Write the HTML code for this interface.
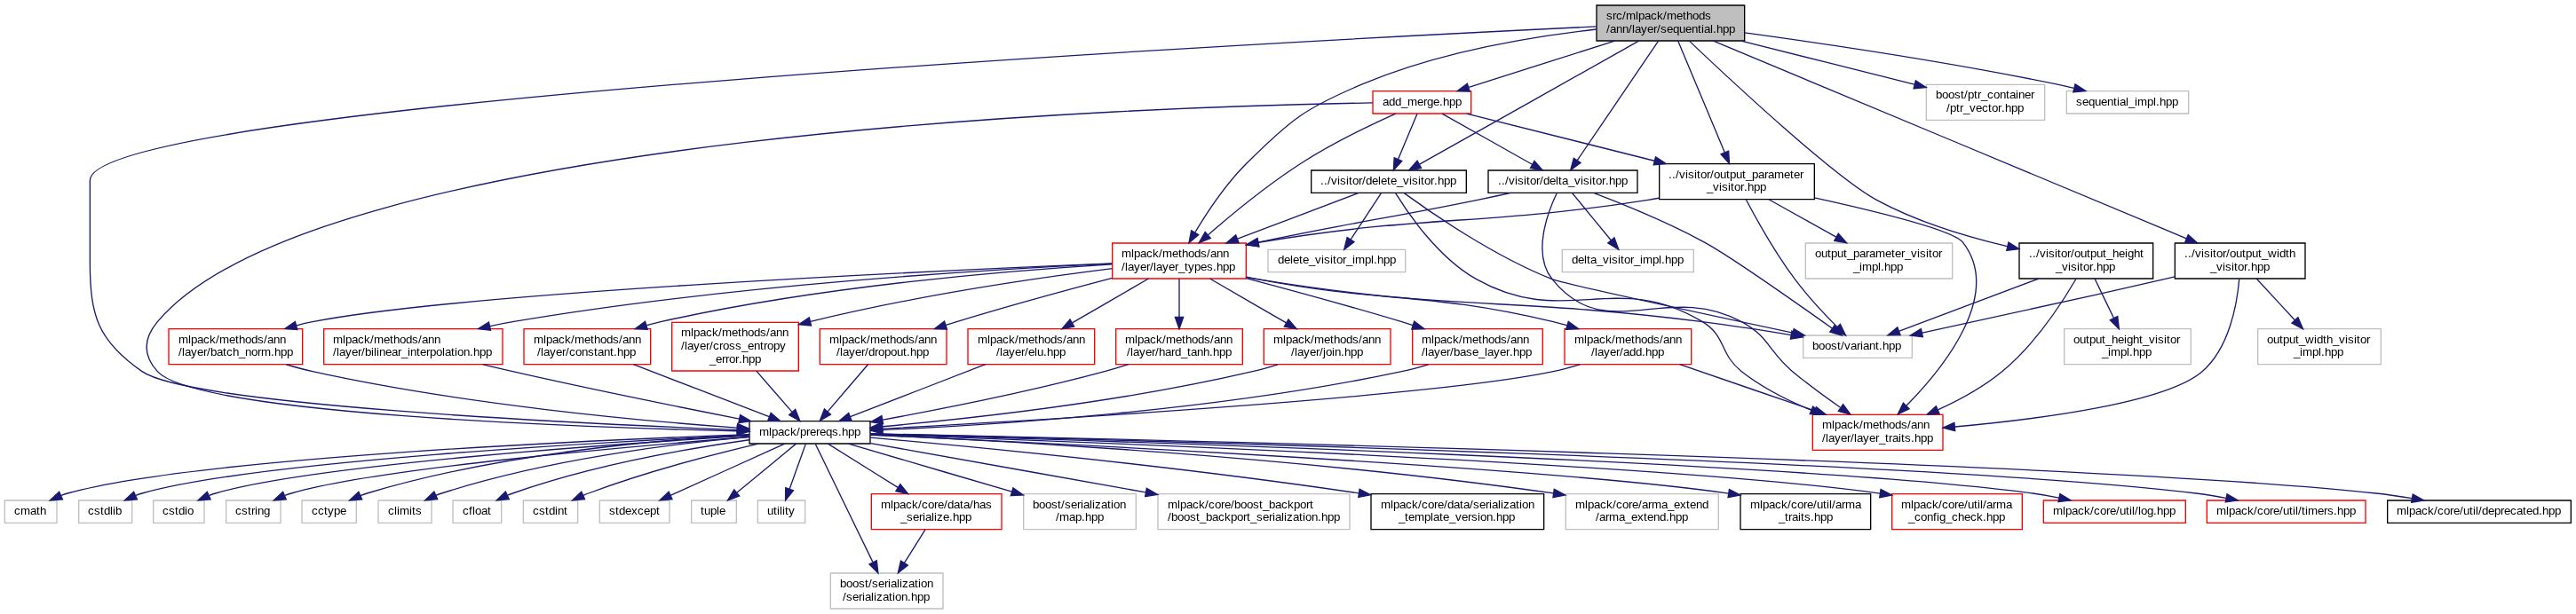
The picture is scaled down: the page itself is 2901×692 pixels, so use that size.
<!DOCTYPE html>
<html>
<head>
<meta charset="utf-8">
<title>sequential.hpp include dependency graph</title>
<style>
html, body { margin: 0; padding: 0; background: #ffffff; }
body { width: 2901px; height: 692px; overflow: hidden; font-family: "Liberation Sans", sans-serif; }
svg { display: block; will-change: transform; }
svg text { font-family: "Liberation Sans", sans-serif; font-size: 10px; fill: #000; }
</style>
</head>
<body>
<svg width="2901" height="692" viewBox="0 0 2175.75 519">
<g transform="scale(1 1) rotate(0) translate(4 515)">
<polygon fill="white" stroke="transparent" points="-4,4 -4,-515 2171.5,-515 2171.5,4 -4,4"/>
<g>
<polygon fill="#bfbfbf" stroke="black" points="1344.5,-480.5 1344.5,-510.5 1469.5,-510.5 1469.5,-480.5 1344.5,-480.5"/>
<text x="1352.75 1358 1361 1366.25 1369.25 1377.5 1379.75 1385 1390.25 1395.5 1400.75 1403.75 1412 1417.25 1420.25 1425.5 1430.75 1436" y="-498.5">src/mlpack/methods</text>
<text x="1352.75 1355.75 1361 1366.25 1371.5 1374.5 1376.75 1382 1387.25 1392.5 1395.5 1398.5 1403.75 1409 1414.25 1419.5 1424.75 1430 1433 1435.25 1440.5 1442.75 1445.75 1451 1456.25" y="-487.25">/ann/layer/sequential.hpp</text>
</g>
<g>
<polygon fill="white" stroke="black" points="629,-140 629,-159 731,-159 731,-140 629,-140"/>
<text x="637.25 645.5 647.75 653 658.25 663.5 668.75 671.75 677 680 685.25 688.25 693.5 698.75 704 707 712.25 717.5" y="-146.75">mlpack/prereqs.hpp</text>
</g>
<g>
<path fill="none" stroke="midnightblue" d="M1344.4,-492.59C1080.47,-479.92 72,-427.28 72,-362.5 72,-362.5 72,-293.5 72,-293.5 72,-247.97 78.65,-227.04 116,-201 156.48,-172.77 480.36,-157.14 618.22,-151.72"/>
<polygon fill="midnightblue" stroke="midnightblue" points="618.48,-148.2 628.61,-151.31 618.76,-155.2 618.48,-148.2"/>
</g>
<g>
<polygon fill="white" stroke="#bfbfbf" points="1623,-413.5 1623,-443.5 1723,-443.5 1723,-413.5 1623,-413.5"/>
<text x="1631 1636.25 1641.5 1646.75 1652 1655 1658 1663.25 1666.25 1669.25 1674.5 1679.75 1685 1690.25 1693.25 1698.5 1700.75 1706 1711.25" y="-431.75">boost/ptr_container</text>
<text x="1640 1643 1648.25 1651.25 1654.25 1659.5 1664.75 1670 1675.25 1678.25 1683.5 1686.5 1689.5 1694.75 1700" y="-420.5">/ptr_vector.hpp</text>
</g>
<g>
<path fill="none" stroke="midnightblue" d="M1466.7,-480.46C1510.32,-469.48 1569.25,-454.63 1612.96,-443.62"/>
<polygon fill="midnightblue" stroke="midnightblue" points="1612.33,-440.17 1622.88,-441.12 1614.04,-446.96 1612.33,-440.17"/>
</g>
<g>
<polygon fill="white" stroke="black" points="1103.5,-352 1103.5,-371 1234.5,-371 1234.5,-352 1103.5,-352"/>
<text x="1111.25 1114.25 1117.25 1120.25 1125.5 1127.75 1133 1135.25 1138.25 1143.5 1146.5 1149.5 1154.75 1160 1162.25 1167.5 1170.5 1175.75 1181 1186.25 1188.5 1193.75 1196 1199 1204.25 1207.25 1210.25 1215.5 1220.75" y="-359">../visitor/delete_visitor.hpp</text>
</g>
<g>
<path fill="none" stroke="midnightblue" d="M1380.16,-480.39C1334.08,-454.45 1240.5,-401.76 1195,-376.14"/>
<polygon fill="midnightblue" stroke="midnightblue" points="1193.05,-379.06 1186.06,-371.1 1196.49,-372.96 1193.05,-379.06"/>
</g>
<g>
<polygon fill="white" stroke="red" points="935.5,-279.5 935.5,-309.5 1048.5,-309.5 1048.5,-279.5 935.5,-279.5"/>
<text x="943.25 951.5 953.75 959 964.25 969.5 974.75 977.75 986 991.25 994.25 999.5 1004.75 1010 1015.25 1018.25 1023.5 1028.75" y="-297.5">mlpack/methods/ann</text>
<text x="943.25 946.25 948.5 953.75 959 964.25 967.25 970.25 972.5 977.75 983 988.25 991.25 996.5 999.5 1004.75 1010 1015.25 1020.5 1023.5 1028.75 1034" y="-286.25">/layer/layer_types.hpp</text>
</g>
<g>
<path fill="none" stroke="midnightblue" d="M1344.26,-490.23C1290.27,-484.03 1211.17,-470.95 1147,-444 1098.36,-423.57 1086.4,-414.22 1049,-377 1031.51,-359.59 1015.91,-336.17 1005.47,-318.73"/>
<polygon fill="midnightblue" stroke="midnightblue" points="1002.24,-320.13 1000.23,-309.73 1008.29,-316.61 1002.24,-320.13"/>
</g>
<g>
<polygon fill="white" stroke="black" points="1253,-352 1253,-371 1379,-371 1379,-352 1253,-352"/>
<text x="1261.25 1264.25 1267.25 1270.25 1275.5 1277.75 1283 1285.25 1288.25 1293.5 1296.5 1299.5 1304.75 1310 1312.25 1315.25 1320.5 1325.75 1331 1333.25 1338.5 1340.75 1343.75 1349 1352 1355 1360.25 1365.5" y="-359">../visitor/delta_visitor.hpp</text>
</g>
<g>
<path fill="none" stroke="midnightblue" d="M1396.74,-480.39C1379.86,-455.53 1346.3,-406.12 1328.22,-379.49"/>
<polygon fill="midnightblue" stroke="midnightblue" points="1325.24,-381.34 1322.52,-371.1 1331.04,-377.41 1325.24,-381.34"/>
</g>
<g>
<polygon fill="white" stroke="black" points="1701.5,-279.5 1701.5,-309.5 1814.5,-309.5 1814.5,-279.5 1701.5,-279.5"/>
<text x="1709.75 1712.75 1715.75 1718.75 1724 1726.25 1731.5 1733.75 1736.75 1742 1745 1748 1753.25 1758.5 1761.5 1766.75 1772 1775 1780.25 1785.5 1790.75 1793 1798.25 1803.5" y="-297.5">../visitor/output_height</text>
<text x="1732.25 1737.5 1742.75 1745 1750.25 1752.5 1755.5 1760.75 1763.75 1766.75 1772 1777.25" y="-286.25">_visitor.hpp</text>
</g>
<g>
<path fill="none" stroke="midnightblue" d="M1422.77,-480.4C1458.61,-446.35 1545.81,-365.07 1581,-346 1615.32,-327.41 1657.11,-314.84 1691.47,-306.78"/>
<polygon fill="midnightblue" stroke="midnightblue" points="1690.88,-303.32 1701.41,-304.52 1692.43,-310.15 1690.88,-303.32"/>
</g>
<g>
<polygon fill="white" stroke="black" points="1397.5,-346.5 1397.5,-376.5 1528.5,-376.5 1528.5,-346.5 1397.5,-346.5"/>
<text x="1405.25 1408.25 1411.25 1414.25 1419.5 1421.75 1427 1429.25 1432.25 1437.5 1440.5 1443.5 1448.75 1454 1457 1462.25 1467.5 1470.5 1475.75 1481 1486.25 1489.25 1494.5 1502.75 1508 1511 1516.25" y="-364.25">../visitor/output_parameter</text>
<text x="1437.5 1442.75 1448 1450.25 1455.5 1457.75 1460.75 1466 1469 1472 1477.25 1482.5" y="-353.75">_visitor.hpp</text>
</g>
<g>
<path fill="none" stroke="midnightblue" d="M1413.32,-480.39C1422.89,-457.47 1441.2,-413.67 1452.71,-386.11"/>
<polygon fill="midnightblue" stroke="midnightblue" points="1449.54,-384.64 1456.62,-376.76 1456,-387.34 1449.54,-384.64"/>
</g>
<g>
<polygon fill="white" stroke="black" points="1833,-279.5 1833,-309.5 1943,-309.5 1943,-279.5 1833,-279.5"/>
<text x="1841 1844 1847 1850 1855.25 1857.5 1862.75 1865 1868 1873.25 1876.25 1879.25 1884.5 1889.75 1892.75 1898 1903.25 1906.25 1911.5 1919 1921.25 1926.5 1929.5" y="-297.5">../visitor/output_width</text>
<text x="1862.75 1868 1873.25 1875.5 1880.75 1883 1886 1891.25 1894.25 1897.25 1902.5 1907.75" y="-286.25">_visitor.hpp</text>
</g>
<g>
<path fill="none" stroke="midnightblue" d="M1443.15,-480.39C1529.54,-444.29 1747.83,-353.08 1842.75,-313.41"/>
<polygon fill="midnightblue" stroke="midnightblue" points="1841.51,-310.14 1852.08,-309.51 1844.21,-316.59 1841.51,-310.14"/>
</g>
<g>
<polygon fill="white" stroke="red" points="1155.5,-419 1155.5,-438 1238.5,-438 1238.5,-419 1155.5,-419"/>
<text x="1163.75 1169 1174.25 1179.5 1184.75 1193 1198.25 1201.25 1206.5 1211.75 1214.75 1220 1225.25" y="-425.75">add_merge.hpp</text>
</g>
<g>
<path fill="none" stroke="midnightblue" d="M1359.87,-480.46C1322.78,-468.63 1271.68,-452.33 1236.66,-441.15"/>
<polygon fill="midnightblue" stroke="midnightblue" points="1235.26,-444.38 1226.79,-438.01 1237.38,-437.71 1235.26,-444.38"/>
</g>
<g>
<polygon fill="white" stroke="#bfbfbf" points="1741.5,-419 1741.5,-438 1844.5,-438 1844.5,-419 1741.5,-419"/>
<text x="1749.5 1754.75 1760 1765.25 1770.5 1775.75 1781 1784 1786.25 1791.5 1793.75 1799 1801.25 1809.5 1814.75 1817 1820 1825.25 1830.5" y="-425.75">sequential_impl.hpp</text>
</g>
<g>
<path fill="none" stroke="midnightblue" d="M1469.61,-487.32C1535.29,-478.32 1641.35,-462.66 1732,-444 1737.09,-442.95 1742.39,-441.76 1747.65,-440.51"/>
<polygon fill="midnightblue" stroke="midnightblue" points="1747.1,-437.04 1757.65,-438.07 1748.77,-443.84 1747.1,-437.04"/>
</g>
<g>
<polygon fill="white" stroke="#bfbfbf" points="0,-73 0,-92 44,-92 44,-73 0,-73"/>
<text x="8 13.25 21.5 26.75 29.75" y="-80">cmath</text>
</g>
<g>
<path fill="none" stroke="midnightblue" d="M628.57,-147.79C498.84,-143.08 160.94,-128.2 53,-98 51.29,-97.52 49.56,-96.95 47.84,-96.3"/>
<polygon fill="midnightblue" stroke="midnightblue" points="46,-99.32 38.26,-92.08 48.83,-92.91 46,-99.32"/>
</g>
<g>
<polygon fill="white" stroke="#bfbfbf" points="62.5,-73 62.5,-92 107.5,-92 107.5,-73 62.5,-73"/>
<text x="70.25 75.5 80.75 83.75 89 91.25 93.5" y="-80">cstdlib</text>
</g>
<g>
<path fill="none" stroke="midnightblue" d="M628.94,-147.26C508.92,-141.62 211.74,-125.26 116,-98 114.29,-97.51 112.56,-96.93 110.84,-96.28"/>
<polygon fill="midnightblue" stroke="midnightblue" points="109,-99.3 101.27,-92.05 111.83,-92.9 109,-99.3"/>
</g>
<g>
<polygon fill="white" stroke="#bfbfbf" points="125.5,-73 125.5,-92 168.5,-92 168.5,-73 125.5,-73"/>
<text x="133.25 138.5 143.75 146.75 152 154.25" y="-80">cstdio</text>
</g>
<g>
<path fill="none" stroke="midnightblue" d="M628.87,-146.6C518.62,-139.96 261.71,-122.34 178,-98 176.29,-97.5 174.57,-96.92 172.85,-96.26"/>
<polygon fill="midnightblue" stroke="midnightblue" points="171,-99.27 163.28,-92.02 173.84,-92.88 171,-99.27"/>
</g>
<g>
<polygon fill="white" stroke="#bfbfbf" points="187,-73 187,-92 233,-92 233,-73 187,-73"/>
<text x="194.75 200 205.25 208.25 211.25 213.5 218.75" y="-80">cstring</text>
</g>
<g>
<path fill="none" stroke="midnightblue" d="M628.69,-145.62C529.17,-137.75 313.48,-118.87 242,-98 240.29,-97.5 238.56,-96.92 236.83,-96.27"/>
<polygon fill="midnightblue" stroke="midnightblue" points="234.98,-99.29 227.18,-92.12 237.75,-92.86 234.98,-99.29"/>
</g>
<g>
<polygon fill="white" stroke="#bfbfbf" points="251,-73 251,-92 297,-92 297,-73 251,-73"/>
<text x="259.25 264.5 269.75 272.75 278 283.25" y="-80">cctype</text>
</g>
<g>
<path fill="none" stroke="midnightblue" d="M628.71,-147.52C555.63,-143.56 417.98,-131.9 306,-98 304.14,-97.44 302.25,-96.78 300.37,-96.05"/>
<polygon fill="midnightblue" stroke="midnightblue" points="298.97,-99.26 291.2,-92.05 301.77,-92.84 298.97,-99.26"/>
</g>
<g>
<polygon fill="white" stroke="#bfbfbf" points="315.5,-73 315.5,-92 360.5,-92 360.5,-73 315.5,-73"/>
<text x="323.75 329 331.25 333.5 341.75 344 347" y="-80">climits</text>
</g>
<g>
<path fill="none" stroke="midnightblue" d="M628.8,-145.74C566.24,-140.09 457.75,-126.81 369,-98 367.39,-97.48 365.75,-96.88 364.12,-96.23"/>
<polygon fill="midnightblue" stroke="midnightblue" points="362.68,-99.42 354.99,-92.14 365.55,-93.04 362.68,-99.42"/>
</g>
<g>
<polygon fill="white" stroke="#bfbfbf" points="378.5,-73 378.5,-92 419.5,-92 419.5,-73 378.5,-73"/>
<text x="386.75 392 395 397.25 402.5 407.75" y="-80">cfloat</text>
</g>
<g>
<path fill="none" stroke="midnightblue" d="M628.89,-143.21C577.38,-135.9 496.11,-121.71 429,-98 427.58,-97.5 426.15,-96.94 424.72,-96.35"/>
<polygon fill="midnightblue" stroke="midnightblue" points="423.04,-99.43 415.45,-92.03 426,-93.08 423.04,-99.43"/>
</g>
<g>
<polygon fill="white" stroke="#bfbfbf" points="438,-73 438,-92 484,-92 484,-73 438,-73"/>
<text x="446 451.25 456.5 459.5 464.75 467 472.25" y="-80">cstdint</text>
</g>
<g>
<path fill="none" stroke="midnightblue" d="M636.59,-139.92C598.22,-130.9 541.06,-116.09 493,-98 491.59,-97.47 490.16,-96.9 488.73,-96.3"/>
<polygon fill="midnightblue" stroke="midnightblue" points="487.05,-99.39 479.36,-92.1 489.92,-93 487.05,-99.39"/>
</g>
<g>
<polygon fill="white" stroke="#bfbfbf" points="502.5,-73 502.5,-92 561.5,-92 561.5,-73 502.5,-73"/>
<text x="510.5 515.75 518.75 524 529.25 534.5 539.75 545 550.25" y="-80">stdexcept</text>
</g>
<g>
<path fill="none" stroke="midnightblue" d="M658.8,-139.9C633.52,-128.46 591.09,-109.25 562.35,-96.24"/>
<polygon fill="midnightblue" stroke="midnightblue" points="560.83,-99.39 553.17,-92.08 563.72,-93.02 560.83,-99.39"/>
</g>
<g>
<polygon fill="white" stroke="#bfbfbf" points="580,-73 580,-92 618,-92 618,-73 580,-73"/>
<text x="587.75 590.75 596 601.25 603.5" y="-80">tuple</text>
</g>
<g>
<path fill="none" stroke="midnightblue" d="M668.39,-139.9C655.4,-129.15 634.13,-111.56 618.56,-98.68"/>
<polygon fill="midnightblue" stroke="midnightblue" points="616.06,-101.15 610.58,-92.08 620.52,-95.76 616.06,-101.15"/>
</g>
<g>
<polygon fill="white" stroke="#bfbfbf" points="636,-73 636,-92 676,-92 676,-73 636,-73"/>
<text x="644 649.25 652.25 654.5 656.75 659 662" y="-80">utility</text>
</g>
<g>
<path fill="none" stroke="midnightblue" d="M676.56,-139.9C673,-129.95 667.33,-114.13 662.85,-101.61"/>
<polygon fill="midnightblue" stroke="midnightblue" points="659.51,-102.68 659.43,-92.08 666.1,-100.32 659.51,-102.68"/>
</g>
<g>
<polygon fill="white" stroke="#bfbfbf" points="697.5,-0.5 697.5,-30.5 792.5,-30.5 792.5,-0.5 697.5,-0.5"/>
<text x="705.5 710.75 716 721.25 726.5 729.5 732.5 737.75 743 746 748.25 753.5 755.75 758 763.25 768.5 771.5 773.75 779" y="-18.5">boost/serialization</text>
<text x="707.75 710.75 716 721.25 724.25 726.5 731.75 734 736.25 741.5 746.75 749.75 752 757.25 762.5 765.5 770.75 776" y="-7.25">/serialization.hpp</text>
</g>
<g>
<path fill="none" stroke="midnightblue" d="M684.67,-139.86C694.72,-119.16 718.62,-69.89 733.14,-39.95"/>
<polygon fill="midnightblue" stroke="midnightblue" points="730.16,-38.08 737.67,-30.61 736.45,-41.14 730.16,-38.08"/>
</g>
<g>
<polygon fill="white" stroke="#bfbfbf" points="860.5,-67.5 860.5,-97.5 955.5,-97.5 955.5,-67.5 860.5,-67.5"/>
<text x="868.25 873.5 878.75 884 889.25 892.25 895.25 900.5 905.75 908.75 911 916.25 918.5 920.75 926 931.25 934.25 936.5 941.75" y="-85.25">boost/serialization</text>
<text x="887.75 890.75 899 904.25 909.5 912.5 917.75 923" y="-74.75">/map.hpp</text>
</g>
<g>
<path fill="none" stroke="midnightblue" d="M712.67,-139.9C748.61,-129.34 807.07,-112.16 850.68,-99.34"/>
<polygon fill="midnightblue" stroke="midnightblue" points="849.72,-95.98 860.3,-96.52 851.7,-102.69 849.72,-95.98"/>
</g>
<g>
<polygon fill="white" stroke="#bfbfbf" points="974,-67.5 974,-97.5 1136,-97.5 1136,-67.5 974,-67.5"/>
<text x="982.25 990.5 992.75 998 1003.25 1008.5 1013.75 1016.75 1022 1027.25 1030.25 1035.5 1038.5 1043.75 1049 1054.25 1059.5 1062.5 1067.75 1073 1078.25 1083.5 1088.75 1094 1099.25 1102.25" y="-85.25">mlpack/core/boost_backport</text>
<text x="982.25 985.25 990.5 995.75 1001 1006.25 1009.25 1014.5 1019.75 1025 1030.25 1035.5 1040.75 1046 1049 1052 1057.25 1062.5 1067.75 1070.75 1073 1078.25 1080.5 1082.75 1088 1093.25 1096.25 1098.5 1103.75 1109 1112 1117.25 1122.5" y="-74.75">/boost_backport_serialization.hpp</text>
</g>
<g>
<path fill="none" stroke="midnightblue" d="M731.36,-140.32C791.03,-129.66 890.63,-111.87 963.61,-98.83"/>
<polygon fill="midnightblue" stroke="midnightblue" points="963.26,-95.33 973.72,-97.02 964.5,-102.23 963.26,-95.33"/>
</g>
<g>
<polygon fill="white" stroke="red" points="732,-67.5 732,-97.5 842,-97.5 842,-67.5 732,-67.5"/>
<text x="740 748.25 750.5 755.75 761 766.25 771.5 774.5 779.75 785 788 793.25 796.25 801.5 806.75 809.75 815 818 823.25 828.5" y="-85.25">mlpack/core/data/has</text>
<text x="756.5 761.75 767 772.25 775.25 777.5 782.75 785 787.25 792.5 797.75 800.75 806 811.25" y="-74.75">_serialize.hpp</text>
</g>
<g>
<path fill="none" stroke="midnightblue" d="M695.33,-139.9C710.66,-130.3 734.73,-115.23 754.35,-102.94"/>
<polygon fill="midnightblue" stroke="midnightblue" points="752.68,-99.86 763.01,-97.52 756.39,-105.8 752.68,-99.86"/>
</g>
<g>
<polygon fill="white" stroke="black" points="1154,-67.5 1154,-97.5 1300,-97.5 1300,-67.5 1154,-67.5"/>
<text x="1162.25 1170.5 1172.75 1178 1183.25 1188.5 1193.75 1196.75 1202 1207.25 1210.25 1215.5 1218.5 1223.75 1229 1232 1237.25 1240.25 1245.5 1250.75 1253.75 1256 1261.25 1263.5 1265.75 1271 1276.25 1279.25 1281.5 1286.75" y="-85.25">mlpack/core/data/serialization</text>
<text x="1177.25 1182.5 1185.5 1190.75 1199 1204.25 1206.5 1211.75 1214.75 1220 1225.25 1230.5 1235.75 1238.75 1244 1246.25 1251.5 1256.75 1259.75 1265 1270.25" y="-74.75">_template_version.hpp</text>
</g>
<g>
<path fill="none" stroke="midnightblue" d="M731.08,-145.13C815.02,-137.67 987.57,-121.15 1143.48,-98.16"/>
<polygon fill="midnightblue" stroke="midnightblue" points="1143.32,-94.65 1153.73,-96.64 1144.35,-101.57 1143.32,-94.65"/>
</g>
<g>
<polygon fill="white" stroke="#bfbfbf" points="1318.5,-67.5 1318.5,-97.5 1447.5,-97.5 1447.5,-67.5 1318.5,-67.5"/>
<text x="1326.5 1334.75 1337 1342.25 1347.5 1352.75 1358 1361 1366.25 1371.5 1374.5 1379.75 1382.75 1388 1391 1399.25 1404.5 1409.75 1415 1420.25 1423.25 1428.5 1433.75" y="-85.25">mlpack/core/arma_extend</text>
<text x="1343.75 1346.75 1352 1355 1363.25 1368.5 1373.75 1379 1384.25 1387.25 1392.5 1397.75 1403 1406 1411.25 1416.5" y="-74.75">/arma_extend.hpp</text>
</g>
<g>
<path fill="none" stroke="midnightblue" d="M731.2,-147.48C837.09,-142.82 1087.92,-129.37 1307.98,-98.03"/>
<polygon fill="midnightblue" stroke="midnightblue" points="1307.71,-94.53 1318.11,-96.57 1308.71,-101.46 1307.71,-94.53"/>
</g>
<g>
<polygon fill="white" stroke="black" points="1466,-67.5 1466,-97.5 1576,-97.5 1576,-67.5 1466,-67.5"/>
<text x="1474.25 1482.5 1484.75 1490 1495.25 1500.5 1505.75 1508.75 1514 1519.25 1522.25 1527.5 1530.5 1535.75 1538.75 1541 1543.25 1546.25 1551.5 1554.5 1562.75" y="-85.25">mlpack/core/util/arma</text>
<text x="1498.25 1503.5 1506.5 1509.5 1514.75 1517 1520 1525.25 1528.25 1533.5 1538.75" y="-74.75">_traits.hpp</text>
</g>
<g>
<path fill="none" stroke="midnightblue" d="M731.05,-147.26C877.41,-140.67 1297.6,-120.45 1455.92,-97.95"/>
<polygon fill="midnightblue" stroke="midnightblue" points="1455.56,-94.46 1465.96,-96.46 1456.58,-101.39 1455.56,-94.46"/>
</g>
<g>
<polygon fill="white" stroke="red" points="1594,-67.5 1594,-97.5 1704,-97.5 1704,-67.5 1594,-67.5"/>
<text x="1601.75 1610 1612.25 1617.5 1622.75 1628 1633.25 1636.25 1641.5 1646.75 1649.75 1655 1658 1663.25 1666.25 1668.5 1670.75 1673.75 1679 1682 1690.25" y="-85.25">mlpack/core/util/arma</text>
<text x="1607.75 1613 1618.25 1623.5 1628.75 1631.75 1634 1639.25 1644.5 1649.75 1655 1660.25 1665.5 1670.75 1673.75 1679 1684.25" y="-74.75">_config_check.hpp</text>
</g>
<g>
<path fill="none" stroke="midnightblue" d="M731.05,-147.81C893.65,-142.24 1399.01,-123.45 1583.83,-97.95"/>
<polygon fill="midnightblue" stroke="midnightblue" points="1583.57,-94.45 1593.97,-96.5 1584.56,-101.38 1583.57,-94.45"/>
</g>
<g>
<polygon fill="white" stroke="red" points="1722,-73 1722,-92 1842,-92 1842,-73 1722,-73"/>
<text x="1730 1738.25 1740.5 1745.75 1751 1756.25 1761.5 1764.5 1769.75 1775 1778 1783.25 1786.25 1791.5 1794.5 1796.75 1799 1802 1804.25 1809.5 1814.75 1817.75 1823 1828.25" y="-80">mlpack/core/util/log.hpp</text>
</g>
<g>
<path fill="none" stroke="midnightblue" d="M731.18,-148.11C911.95,-143.02 1519.96,-124.3 1713,-98 1720.19,-97.02 1727.74,-95.67 1735.1,-94.16"/>
<polygon fill="midnightblue" stroke="midnightblue" points="1734.46,-90.72 1744.97,-92.04 1735.93,-97.57 1734.46,-90.72"/>
</g>
<g>
<polygon fill="white" stroke="red" points="1860,-73 1860,-92 1994,-92 1994,-73 1860,-73"/>
<text x="1868 1876.25 1878.5 1883.75 1889 1894.25 1899.5 1902.5 1907.75 1913 1916 1921.25 1924.25 1929.5 1932.5 1934.75 1937 1940 1943 1945.25 1953.5 1958.75 1961.75 1967 1970 1975.25 1980.5" y="-80">mlpack/core/util/timers.hpp</text>
</g>
<g>
<path fill="none" stroke="midnightblue" d="M731.11,-148.32C926.91,-143.65 1629.34,-125.31 1851,-98 1859.17,-96.99 1867.78,-95.58 1876.14,-94.02"/>
<polygon fill="midnightblue" stroke="midnightblue" points="1875.69,-90.54 1886.18,-92.05 1877.03,-97.41 1875.69,-90.54"/>
</g>
<g>
<polygon fill="white" stroke="black" points="2012.5,-73 2012.5,-92 2167.5,-92 2167.5,-73 2012.5,-73"/>
<text x="2020.25 2028.5 2030.75 2036 2041.25 2046.5 2051.75 2054.75 2060 2065.25 2068.25 2073.5 2076.5 2081.75 2084.75 2087 2089.25 2092.25 2097.5 2102.75 2108 2111 2116.25 2121.5 2126.75 2129.75 2135 2140.25 2143.25 2148.5 2153.75" y="-80">mlpack/core/util/deprecated.hpp</text>
</g>
<g>
<path fill="none" stroke="midnightblue" d="M731.1,-148.45C942.52,-143.97 1749.62,-125.37 2003,-98 2012.84,-96.94 2023.24,-95.43 2033.3,-93.76"/>
<polygon fill="midnightblue" stroke="midnightblue" points="2032.76,-90.3 2043.21,-92.05 2033.95,-97.2 2032.76,-90.3"/>
</g>
<g>
<path fill="none" stroke="midnightblue" d="M777.47,-67.3C772.26,-58.99 765.69,-48.51 759.83,-39.16"/>
<polygon fill="midnightblue" stroke="midnightblue" points="756.84,-40.98 754.49,-30.64 762.77,-37.26 756.84,-40.98"/>
</g>
<g>
<polygon fill="white" stroke="red" points="1527,-134.5 1527,-164.5 1637,-164.5 1637,-134.5 1527,-134.5"/>
<text x="1535 1543.25 1545.5 1550.75 1556 1561.25 1566.5 1569.5 1577.75 1583 1586 1591.25 1596.5 1601.75 1607 1610 1615.25 1620.5" y="-152.75">mlpack/methods/ann</text>
<text x="1535 1538 1540.25 1545.5 1550.75 1556 1559 1562 1564.25 1569.5 1574.75 1580 1583 1588.25 1591.25 1594.25 1599.5 1601.75 1604.75 1610 1613 1618.25 1623.5" y="-141.5">/layer/layer_traits.hpp</text>
</g>
<g>
<path fill="none" stroke="midnightblue" d="M1174.7,-351.73C1185.55,-334.08 1210.98,-297.03 1243,-279 1318.26,-236.61 1360.16,-287.82 1434,-243 1454.29,-230.68 1448.29,-215.61 1467,-201 1484.41,-187.41 1505.98,-176.52 1525.71,-168.33"/>
<polygon fill="midnightblue" stroke="midnightblue" points="1524.64,-164.99 1535.23,-164.52 1527.24,-171.49 1524.64,-164.99"/>
</g>
<g>
<path fill="none" stroke="midnightblue" d="M1143.64,-351.9C1117.02,-341.82 1074.49,-325.72 1041.24,-313.14"/>
<polygon fill="midnightblue" stroke="midnightblue" points="1039.8,-316.34 1031.68,-309.52 1042.28,-309.79 1039.8,-316.34"/>
</g>
<g>
<polygon fill="white" stroke="#bfbfbf" points="1519,-212.5 1519,-231.5 1611,-231.5 1611,-212.5 1519,-212.5"/>
<text x="1526.75 1532 1537.25 1542.5 1547.75 1550.75 1553.75 1559 1564.25 1567.25 1569.5 1574.75 1580 1583 1586 1591.25 1596.5" y="-219.5">boost/variant.hpp</text>
</g>
<g>
<path fill="none" stroke="midnightblue" d="M1181.96,-351.78C1205.57,-334.54 1257.71,-298.58 1307,-279 1316.48,-275.23 1437.36,-249.18 1510.24,-233.63"/>
<polygon fill="midnightblue" stroke="midnightblue" points="1509.68,-230.17 1520.19,-231.51 1511.14,-237.02 1509.68,-230.17"/>
</g>
<g>
<polygon fill="white" stroke="#bfbfbf" points="1067,-285 1067,-304 1183,-304 1183,-285 1067,-285"/>
<text x="1075.25 1080.5 1085.75 1088 1093.25 1096.25 1101.5 1106.75 1112 1114.25 1119.5 1121.75 1124.75 1130 1133 1138.25 1140.5 1148.75 1154 1156.25 1159.25 1164.5 1169.75" y="-292.25">delete_visitor_impl.hpp</text>
</g>
<g>
<path fill="none" stroke="midnightblue" d="M1162.7,-351.9C1155.97,-341.65 1145.14,-325.17 1136.82,-312.5"/>
<polygon fill="midnightblue" stroke="midnightblue" points="1133.86,-314.36 1131.29,-304.08 1139.71,-310.52 1133.86,-314.36"/>
</g>
<g>
<path fill="none" stroke="midnightblue" d="M1048.78,-280.65C1051.89,-280.05 1054.98,-279.5 1058,-279 1223.65,-251.75 1267.48,-264.3 1434,-243 1458.58,-239.86 1485.64,-235.65 1508.74,-231.82"/>
<polygon fill="midnightblue" stroke="midnightblue" points="1508.28,-228.35 1518.72,-230.15 1509.44,-235.25 1508.28,-228.35"/>
</g>
<g>
<polygon fill="white" stroke="red" points="1317.5,-207 1317.5,-237 1424.5,-237 1424.5,-207 1317.5,-207"/>
<text x="1325.75 1334 1336.25 1341.5 1346.75 1352 1357.25 1360.25 1368.5 1373.75 1376.75 1382 1387.25 1392.5 1397.75 1400.75 1406 1411.25" y="-224.75">mlpack/methods/ann</text>
<text x="1340 1343 1345.25 1350.5 1355.75 1361 1364 1367 1372.25 1377.5 1382.75 1385.75 1391 1396.25" y="-214.25">/layer/add.hpp</text>
</g>
<g>
<path fill="none" stroke="midnightblue" d="M1048.81,-280.82C1051.92,-280.18 1054.99,-279.57 1058,-279 1168.3,-258.15 1198.76,-268.85 1308,-243 1311.8,-242.1 1315.71,-241.07 1319.61,-239.96"/>
<polygon fill="midnightblue" stroke="midnightblue" points="1318.7,-236.58 1329.28,-237.06 1320.71,-243.29 1318.7,-236.58"/>
</g>
<g>
<polygon fill="white" stroke="red" points="1189,-207 1189,-237 1299,-237 1299,-207 1189,-207"/>
<text x="1196.75 1205 1207.25 1212.5 1217.75 1223 1228.25 1231.25 1239.5 1244.75 1247.75 1253 1258.25 1263.5 1268.75 1271.75 1277 1282.25" y="-224.75">mlpack/methods/ann</text>
<text x="1196.75 1199.75 1202 1207.25 1212.5 1217.75 1220.75 1223.75 1229 1234.25 1239.5 1244.75 1250 1252.25 1257.5 1262.75 1268 1271 1274 1279.25 1284.5" y="-214.25">/layer/base_layer.hpp</text>
</g>
<g>
<path fill="none" stroke="midnightblue" d="M1048.56,-279.79C1085.99,-269.86 1136.09,-256.21 1180,-243 1183.08,-242.07 1186.24,-241.1 1189.42,-240.11"/>
<polygon fill="midnightblue" stroke="midnightblue" points="1188.39,-236.76 1198.98,-237.08 1190.51,-243.44 1188.39,-236.76"/>
</g>
<g>
<polygon fill="white" stroke="red" points="138.5,-207 138.5,-237 251.5,-237 251.5,-207 138.5,-207"/>
<text x="146.75 155 157.25 162.5 167.75 173 178.25 181.25 189.5 194.75 197.75 203 208.25 213.5 218.75 221.75 227 232.25" y="-224.75">mlpack/methods/ann</text>
<text x="146.75 149.75 152 157.25 162.5 167.75 170.75 173.75 179 184.25 187.25 192.5 197.75 203 208.25 213.5 216.5 224.75 227.75 233 238.25" y="-214.25">/layer/batch_norm.hpp</text>
</g>
<g>
<path fill="none" stroke="midnightblue" d="M935.23,-292.29C786.71,-286.21 389.22,-268.03 260,-243 255.56,-242.14 250.99,-241.07 246.45,-239.87"/>
<polygon fill="midnightblue" stroke="midnightblue" points="245.24,-243.16 236.57,-237.07 247.14,-236.43 245.24,-243.16"/>
</g>
<g>
<polygon fill="white" stroke="red" points="269.5,-207 269.5,-237 420.5,-237 420.5,-207 269.5,-207"/>
<text x="277.25 285.5 287.75 293 298.25 303.5 308.75 311.75 320 325.25 328.25 333.5 338.75 344 349.25 352.25 357.5 362.75" y="-224.75">mlpack/methods/ann</text>
<text x="277.25 280.25 282.5 287.75 293 298.25 301.25 304.25 309.5 311.75 314 316.25 321.5 326.75 332 335 340.25 342.5 347.75 350.75 356 359 364.25 369.5 371.75 377 380 382.25 387.5 392.75 395.75 401 406.25" y="-214.25">/layer/bilinear_interpolation.hpp</text>
</g>
<g>
<path fill="none" stroke="midnightblue" d="M935.29,-292.2C833.34,-287.42 612.61,-274.16 429,-243 422.78,-241.94 416.33,-240.67 409.91,-239.28"/>
<polygon fill="midnightblue" stroke="midnightblue" points="408.85,-242.62 399.87,-237 410.39,-235.8 408.85,-242.62"/>
</g>
<g>
<polygon fill="white" stroke="red" points="438.5,-207 438.5,-237 545.5,-237 545.5,-207 438.5,-207"/>
<text x="446.75 455 457.25 462.5 467.75 473 478.25 481.25 489.5 494.75 497.75 503 508.25 513.5 518.75 521.75 527 532.25" y="-224.75">mlpack/methods/ann</text>
<text x="449.75 452.75 455 460.25 465.5 470.75 473.75 476.75 482 487.25 492.5 497.75 500.75 506 511.25 514.25 517.25 522.5 527.75" y="-214.25">/layer/constant.hpp</text>
</g>
<g>
<path fill="none" stroke="midnightblue" d="M935.36,-291.64C851.26,-286.54 688.81,-273.4 554,-243 550.12,-242.12 546.14,-241.1 542.16,-239.97"/>
<polygon fill="midnightblue" stroke="midnightblue" points="540.91,-243.25 532.34,-237.02 542.92,-236.55 540.91,-243.25"/>
</g>
<g>
<polygon fill="white" stroke="red" points="563.5,-201.5 563.5,-242.5 670.5,-242.5 670.5,-201.5 563.5,-201.5"/>
<text x="571.25 579.5 581.75 587 592.25 597.5 602.75 605.75 614 619.25 622.25 627.5 632.75 638 643.25 646.25 651.5 656.75" y="-230.75">mlpack/methods/ann</text>
<text x="571.25 574.25 576.5 581.75 587 592.25 595.25 598.25 603.5 606.5 611.75 617 622.25 627.5 632.75 638 641 644 649.25 654.5" y="-219.5">/layer/cross_entropy</text>
<text x="595.25 600.5 605.75 608.75 611.75 617 620 623 628.25 633.5" y="-208.25">_error.hpp</text>
</g>
<g>
<path fill="none" stroke="midnightblue" d="M935.46,-288.02C874.49,-280.41 774.55,-266.11 680.56,-243.22"/>
<polygon fill="midnightblue" stroke="midnightblue" points="679.48,-246.56 670.61,-240.76 681.16,-239.76 679.48,-246.56"/>
</g>
<g>
<polygon fill="white" stroke="red" points="688.5,-207 688.5,-237 795.5,-237 795.5,-207 688.5,-207"/>
<text x="696.5 704.75 707 712.25 717.5 722.75 728 731 739.25 744.5 747.5 752.75 758 763.25 768.5 771.5 776.75 782" y="-224.75">mlpack/methods/ann</text>
<text x="702.5 705.5 707.75 713 718.25 723.5 726.5 729.5 734.75 737.75 743 748.25 753.5 758.75 761.75 764.75 770 775.25" y="-214.25">/layer/dropout.hpp</text>
</g>
<g>
<path fill="none" stroke="midnightblue" d="M935.4,-279.93C897.95,-270.06 847.85,-256.42 804,-243 801.05,-242.1 798.03,-241.15 794.99,-240.18"/>
<polygon fill="midnightblue" stroke="midnightblue" points="793.68,-243.43 785.25,-237.01 795.85,-236.78 793.68,-243.43"/>
</g>
<g>
<polygon fill="white" stroke="red" points="813.5,-207 813.5,-237 920.5,-237 920.5,-207 813.5,-207"/>
<text x="821.75 830 832.25 837.5 842.75 848 853.25 856.25 864.5 869.75 872.75 878 883.25 888.5 893.75 896.75 902 907.25" y="-224.75">mlpack/methods/ann</text>
<text x="837.5 840.5 842.75 848 853.25 858.5 861.5 864.5 869.75 872 877.25 880.25 885.5 890.75" y="-214.25">/layer/elu.hpp</text>
</g>
<g>
<path fill="none" stroke="midnightblue" d="M966.1,-279.48C947.41,-268.64 921.98,-253.89 901.56,-242.05"/>
<polygon fill="midnightblue" stroke="midnightblue" points="899.76,-245.05 892.87,-237 903.27,-238.99 899.76,-245.05"/>
</g>
<g>
<polygon fill="white" stroke="red" points="938.5,-207 938.5,-237 1045.5,-237 1045.5,-207 938.5,-207"/>
<text x="946.25 954.5 956.75 962 967.25 972.5 977.75 980.75 989 994.25 997.25 1002.5 1007.75 1013 1018.25 1021.25 1026.5 1031.75" y="-224.75">mlpack/methods/ann</text>
<text x="947.75 950.75 953 958.25 963.5 968.75 971.75 974.75 980 985.25 988.25 993.5 998.75 1001.75 1007 1012.25 1017.5 1020.5 1025.75 1031" y="-214.25">/layer/hard_tanh.hpp</text>
</g>
<g>
<path fill="none" stroke="midnightblue" d="M992,-279.48C992,-270.15 992,-257.92 992,-247.14"/>
<polygon fill="midnightblue" stroke="midnightblue" points="988.5,-247 992,-237 995.5,-247 988.5,-247"/>
</g>
<g>
<polygon fill="white" stroke="red" points="1063.5,-207 1063.5,-237 1170.5,-237 1170.5,-207 1063.5,-207"/>
<text x="1071.5 1079.75 1082 1087.25 1092.5 1097.75 1103 1106 1114.25 1119.5 1122.5 1127.75 1133 1138.25 1143.5 1146.5 1151.75 1157" y="-224.75">mlpack/methods/ann</text>
<text x="1086.5 1089.5 1091.75 1097 1102.25 1107.5 1110.5 1113.5 1115.75 1121 1123.25 1128.5 1131.5 1136.75 1142" y="-214.25">/layer/join.hpp</text>
</g>
<g>
<path fill="none" stroke="midnightblue" d="M1017.9,-279.48C1036.59,-268.64 1062.02,-253.89 1082.44,-242.05"/>
<polygon fill="midnightblue" stroke="midnightblue" points="1080.73,-238.99 1091.13,-237 1084.24,-245.05 1080.73,-238.99"/>
</g>
<g>
<path fill="none" stroke="midnightblue" d="M1330.72,-206.99C1323.25,-204.66 1315.46,-202.53 1308,-201 1200.8,-179.07 877.69,-159.97 741.54,-152.66"/>
<polygon fill="midnightblue" stroke="midnightblue" points="741.09,-156.14 731.29,-152.12 741.46,-149.15 741.09,-156.14"/>
</g>
<g>
<path fill="none" stroke="midnightblue" d="M1414.72,-206.98C1447.82,-195.6 1493.45,-179.93 1528.69,-167.82"/>
<polygon fill="midnightblue" stroke="midnightblue" points="1527.74,-164.44 1538.34,-164.5 1530.02,-171.06 1527.74,-164.44"/>
</g>
<g>
<path fill="none" stroke="midnightblue" d="M1202.35,-206.91C1194.98,-204.65 1187.32,-202.56 1180,-201 1024.15,-167.81 836.25,-155.76 741.31,-151.59"/>
<polygon fill="midnightblue" stroke="midnightblue" points="741.15,-155.08 731.31,-151.16 741.45,-148.09 741.15,-155.08"/>
</g>
<g>
<path fill="none" stroke="midnightblue" d="M237.69,-206.94C245.06,-204.7 252.7,-202.61 260,-201 385.72,-173.25 536.15,-159.36 618.53,-153.36"/>
<polygon fill="midnightblue" stroke="midnightblue" points="618.5,-149.85 628.72,-152.63 618.99,-156.83 618.5,-149.85"/>
</g>
<g>
<path fill="none" stroke="midnightblue" d="M403.67,-206.99C412.16,-204.92 420.79,-202.87 429,-201 494.27,-186.15 569.52,-170.97 620.48,-160.97"/>
<polygon fill="midnightblue" stroke="midnightblue" points="619.85,-157.53 630.33,-159.04 621.19,-164.4 619.85,-157.53"/>
</g>
<g>
<path fill="none" stroke="midnightblue" d="M530.95,-206.98C564.78,-193.94 613.28,-175.23 645.67,-162.74"/>
<polygon fill="midnightblue" stroke="midnightblue" points="644.58,-159.41 655.17,-159.08 647.1,-165.94 644.58,-159.41"/>
</g>
<g>
<path fill="none" stroke="midnightblue" d="M634.88,-201.42C644.41,-190.45 656,-177.12 665.05,-166.71"/>
<polygon fill="midnightblue" stroke="midnightblue" points="662.47,-164.34 671.67,-159.09 667.75,-168.93 662.47,-164.34"/>
</g>
<g>
<path fill="none" stroke="midnightblue" d="M729.15,-206.98C719.24,-195.39 705.5,-179.32 695.07,-167.12"/>
<polygon fill="midnightblue" stroke="midnightblue" points="692.3,-169.27 688.46,-159.4 697.62,-164.72 692.3,-169.27"/>
</g>
<g>
<path fill="none" stroke="midnightblue" d="M828.25,-206.98C794.61,-193.94 746.37,-175.23 714.15,-162.74"/>
<polygon fill="midnightblue" stroke="midnightblue" points="712.76,-165.95 704.7,-159.08 715.29,-159.43 712.76,-165.95"/>
</g>
<g>
<path fill="none" stroke="midnightblue" d="M949.17,-206.97C942.46,-204.84 935.57,-202.77 929,-201 865.79,-183.99 792.27,-169.41 741.58,-160.15"/>
<polygon fill="midnightblue" stroke="midnightblue" points="740.66,-163.54 731.44,-158.31 741.91,-156.65 740.66,-163.54"/>
</g>
<g>
<path fill="none" stroke="midnightblue" d="M1075.29,-206.9C1068.24,-204.69 1060.96,-202.62 1054,-201 945.34,-175.64 815.8,-161.23 741.21,-154.43"/>
<polygon fill="midnightblue" stroke="midnightblue" points="740.7,-157.9 731.06,-153.52 741.33,-150.92 740.7,-157.9"/>
</g>
<g>
<path fill="none" stroke="midnightblue" d="M1310.98,-351.87C1303,-335.1 1289.99,-300.27 1307,-279 1352.53,-222.08 1402.95,-277.78 1467,-243 1490.48,-230.25 1489.52,-218.16 1510,-201 1522.73,-190.34 1537.54,-179.5 1550.41,-170.53"/>
<polygon fill="midnightblue" stroke="midnightblue" points="1548.74,-167.44 1558.96,-164.65 1552.71,-173.2 1548.74,-167.44"/>
</g>
<g>
<path fill="none" stroke="midnightblue" d="M1272.24,-351.93C1262.93,-349.93 1253.14,-347.87 1244,-346 1164.56,-329.76 1141.99,-327.76 1058.75,-310.11"/>
<polygon fill="midnightblue" stroke="midnightblue" points="1057.9,-313.51 1048.85,-308 1059.36,-306.66 1057.9,-313.51"/>
</g>
<g>
<path fill="none" stroke="midnightblue" d="M1342.44,-351.85C1367.22,-342.42 1405,-327.02 1436,-310 1457.41,-298.25 1512.6,-259.43 1543.41,-237.48"/>
<polygon fill="midnightblue" stroke="midnightblue" points="1541.59,-234.48 1551.76,-231.52 1545.65,-240.18 1541.59,-234.48"/>
</g>
<g>
<polygon fill="white" stroke="#bfbfbf" points="1315.5,-285 1315.5,-304 1426.5,-304 1426.5,-285 1315.5,-285"/>
<text x="1323.5 1328.75 1334 1336.25 1339.25 1344.5 1349.75 1355 1357.25 1362.5 1364.75 1367.75 1373 1376 1381.25 1383.5 1391.75 1397 1399.25 1402.25 1407.5 1412.75" y="-292.25">delta_visitor_impl.hpp</text>
</g>
<g>
<path fill="none" stroke="midnightblue" d="M1323.88,-351.9C1332.38,-341.55 1346.08,-324.85 1356.53,-312.13"/>
<polygon fill="midnightblue" stroke="midnightblue" points="1354.08,-309.59 1363.13,-304.08 1359.49,-314.03 1354.08,-309.59"/>
</g>
<g>
<path fill="none" stroke="midnightblue" d="M1749.65,-279.49C1737.87,-259.44 1714.7,-223.8 1687,-201 1670.98,-187.82 1651.02,-176.95 1632.82,-168.65"/>
<polygon fill="midnightblue" stroke="midnightblue" points="1631.23,-171.78 1623.49,-164.55 1634.05,-165.37 1631.23,-171.78"/>
</g>
<g>
<path fill="none" stroke="midnightblue" d="M1718.01,-279.48C1683.29,-266.44 1633.5,-247.73 1600.25,-235.24"/>
<polygon fill="midnightblue" stroke="midnightblue" points="1598.62,-238.37 1590.49,-231.58 1601.09,-231.82 1598.62,-238.37"/>
</g>
<g>
<polygon fill="white" stroke="#bfbfbf" points="1739.5,-207 1739.5,-237 1846.5,-237 1846.5,-207 1739.5,-207"/>
<text x="1747.25 1752.5 1757.75 1760.75 1766 1771.25 1774.25 1779.5 1784.75 1790 1792.25 1797.5 1802.75 1805.75 1811 1816.25 1818.5 1823.75 1826 1829 1834.25" y="-224.75">output_height_visitor</text>
<text x="1771.25 1776.5 1778.75 1787 1792.25 1794.5 1797.5 1802.75 1808" y="-214.25">_impl.hpp</text>
</g>
<g>
<path fill="none" stroke="midnightblue" d="M1765.25,-279.48C1769.9,-269.85 1776.03,-257.15 1781.35,-246.13"/>
<polygon fill="midnightblue" stroke="midnightblue" points="1778.26,-244.49 1785.76,-237 1784.56,-247.53 1778.26,-244.49"/>
</g>
<g>
<path fill="none" stroke="midnightblue" d="M1528.53,-347.91C1580.63,-336.45 1646.07,-320.3 1654,-310 1687.46,-266.54 1638.53,-205.06 1606.35,-172.24"/>
<polygon fill="midnightblue" stroke="midnightblue" points="1603.61,-174.45 1598.98,-164.92 1608.55,-169.49 1603.61,-174.45"/>
</g>
<g>
<path fill="none" stroke="midnightblue" d="M1397.21,-347.54C1394.1,-346.99 1391.02,-346.48 1388,-346 1245.54,-323.56 1205.21,-334.4 1059.04,-310.04"/>
<polygon fill="midnightblue" stroke="midnightblue" points="1058.07,-313.42 1048.79,-308.3 1059.24,-306.52 1058.07,-313.42"/>
</g>
<g>
<path fill="none" stroke="midnightblue" d="M1470.77,-346.29C1479.75,-329.26 1495.43,-301.14 1512,-279 1522.82,-264.55 1536.77,-249.66 1547.65,-238.72"/>
<polygon fill="midnightblue" stroke="midnightblue" points="1545.37,-236.06 1554.94,-231.52 1550.29,-241.04 1545.37,-236.06"/>
</g>
<g>
<polygon fill="white" stroke="#bfbfbf" points="1521,-279.5 1521,-309.5 1645,-309.5 1645,-279.5 1521,-279.5"/>
<text x="1529 1534.25 1539.5 1542.5 1547.75 1553 1556 1561.25 1566.5 1571.75 1574.75 1580 1588.25 1593.5 1596.5 1601.75 1604.75 1610 1615.25 1617.5 1622.75 1625 1628 1633.25" y="-297.5">output_parameter_visitor</text>
<text x="1561.25 1566.5 1568.75 1577 1582.25 1584.5 1587.5 1592.75 1598" y="-286.25">_impl.hpp</text>
</g>
<g>
<path fill="none" stroke="midnightblue" d="M1489.93,-346.46C1506.72,-337.09 1528.53,-324.91 1546.82,-314.7"/>
<polygon fill="midnightblue" stroke="midnightblue" points="1545.31,-311.54 1555.74,-309.72 1548.72,-317.65 1545.31,-311.54"/>
</g>
<g>
<path fill="none" stroke="midnightblue" d="M1887.33,-279.32C1885.54,-258.38 1879.09,-220.99 1856,-201 1825.43,-174.55 1718.11,-160.69 1647.2,-154.25"/>
<polygon fill="midnightblue" stroke="midnightblue" points="1646.67,-157.72 1637.02,-153.36 1647.28,-150.75 1646.67,-157.72"/>
</g>
<g>
<path fill="none" stroke="midnightblue" d="M1832.86,-281.07C1829.86,-280.36 1826.9,-279.67 1824,-279 1753.56,-262.72 1672.08,-244.97 1619.61,-233.67"/>
<polygon fill="midnightblue" stroke="midnightblue" points="1618.56,-237.02 1609.52,-231.5 1620.03,-230.18 1618.56,-237.02"/>
</g>
<g>
<polygon fill="white" stroke="#bfbfbf" points="1903,-207 1903,-237 2007,-237 2007,-207 1903,-207"/>
<text x="1910.75 1916 1921.25 1924.25 1929.5 1934.75 1937.75 1943 1950.5 1952.75 1958 1961 1966.25 1971.5 1976.75 1979 1984.25 1986.5 1989.5 1994.75" y="-224.75">output_width_visitor</text>
<text x="1933.25 1938.5 1940.75 1949 1954.25 1956.5 1959.5 1964.75 1970" y="-214.25">_impl.hpp</text>
</g>
<g>
<path fill="none" stroke="midnightblue" d="M1901.88,-279.48C1911.23,-269.37 1923.71,-255.86 1934.23,-244.47"/>
<polygon fill="midnightblue" stroke="midnightblue" points="1931.78,-241.97 1941.14,-237 1936.92,-246.72 1931.78,-241.97"/>
</g>
<g>
<path fill="none" stroke="midnightblue" d="M1155.37,-428.06C975.03,-425.18 264.16,-403.66 129,-243 116.98,-228.72 116.43,-214.8 129,-201 161.47,-165.35 481.91,-153.94 618.66,-150.68"/>
<polygon fill="midnightblue" stroke="midnightblue" points="618.89,-147.17 628.97,-150.44 619.05,-154.17 618.89,-147.17"/>
</g>
<g>
<path fill="none" stroke="midnightblue" d="M1192.99,-418.9C1188.83,-408.95 1182.22,-393.13 1176.99,-380.61"/>
<polygon fill="midnightblue" stroke="midnightblue" points="1173.63,-381.66 1173,-371.08 1180.09,-378.96 1173.63,-381.66"/>
</g>
<g>
<path fill="none" stroke="midnightblue" d="M1174.79,-418.91C1153.63,-409.4 1121.2,-393.85 1095,-377 1066.54,-358.7 1036.65,-334.07 1016.44,-316.49"/>
<polygon fill="midnightblue" stroke="midnightblue" points="1013.87,-318.89 1008.67,-309.66 1018.49,-313.63 1013.87,-318.89"/>
</g>
<g>
<path fill="none" stroke="midnightblue" d="M1214.05,-418.9C1233.93,-407.71 1267.01,-389.08 1290.08,-376.09"/>
<polygon fill="midnightblue" stroke="midnightblue" points="1288.55,-372.94 1298.98,-371.08 1291.99,-379.04 1288.55,-372.94"/>
</g>
<g>
<path fill="none" stroke="midnightblue" d="M1234.83,-418.97C1275.98,-408.61 1342.65,-391.81 1393.32,-379.05"/>
<polygon fill="midnightblue" stroke="midnightblue" points="1392.68,-375.6 1403.23,-376.56 1394.39,-382.39 1392.68,-375.6"/>
</g>
</g>
</svg>

</body>
</html>
